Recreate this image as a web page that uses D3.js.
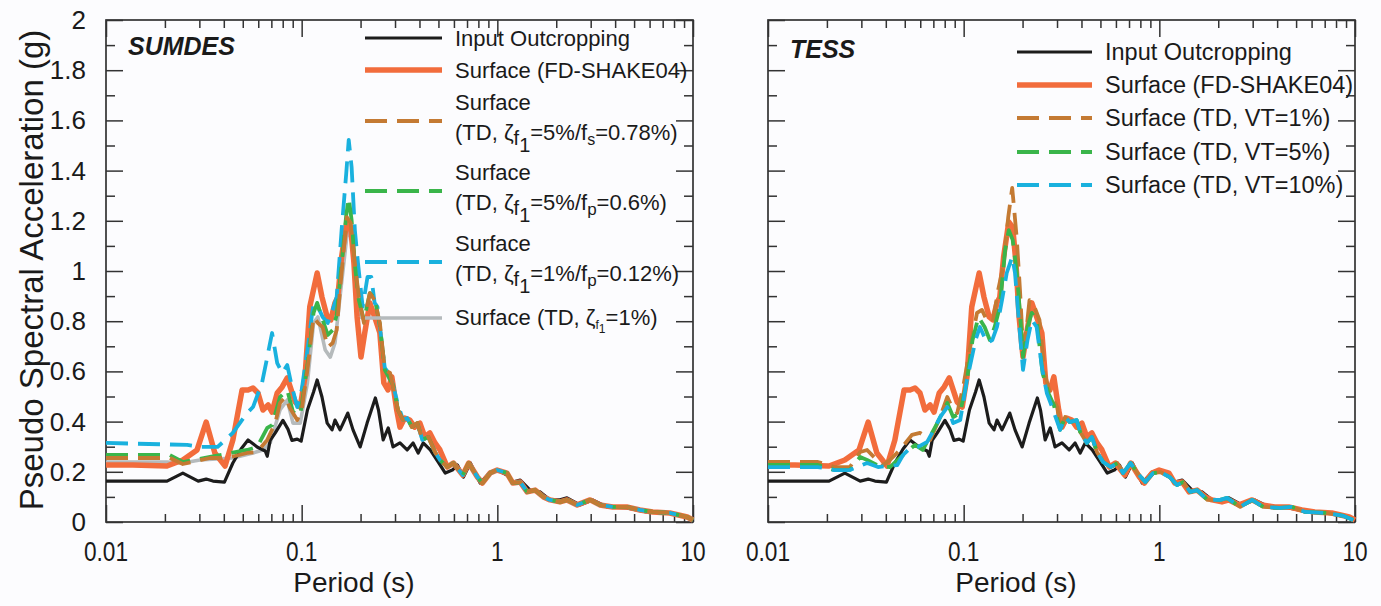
<!DOCTYPE html>
<html><head><meta charset="utf-8">
<script src="https://cdn.jsdelivr.net/npm/d3@7"></script>
<style>
body{margin:0;background:#fcfcfe}
svg{display:block}
text{font-family:"Liberation Sans",Arial,Helvetica,sans-serif;fill:#1a1a1a}
</style>
</head><body>
<svg id="chart" width="1381" height="606"></svg>
<script>
// ---------- tick values / labels ----------
const periodMajorTicks = [0.01, 0.1, 1, 10];
const periodTickLabels = ["0.01", "0.1", "1", "10"];
const periodMinorTicks = [0.02,0.03,0.04,0.05,0.06,0.07,0.08,0.09,0.2,0.3,0.4,0.5,0.6,0.7,0.8,0.9,2,3,4,5,6,7,8,9];
const accelMajorTicks = [0,0.2,0.4,0.6,0.8,1,1.2,1.4,1.6,1.8,2];
const accelTickLabels = ["0","0.2","0.4","0.6","0.8","1","1.2","1.4","1.6","1.8","2"];
const accelMinorTicks = [0.1,0.3,0.5,0.7,0.9,1.1,1.3,1.5,1.7,1.9];

// ---------- series: [period (s), PSA (g)] ----------
const inputOutcropping = [[0.010,0.163],[0.0205,0.163],[0.0247,0.195],[0.0296,0.163],[0.0325,0.171],[0.0352,0.163],[0.0403,0.159],[0.0445,0.235],[0.049,0.291],[0.0532,0.327],[0.0592,0.299],[0.0651,0.283],[0.0667,0.262],[0.069,0.325],[0.0733,0.355],[0.0802,0.405],[0.0851,0.370],[0.0892,0.325],[0.0949,0.330],[0.0994,0.322],[0.107,0.446],[0.115,0.518],[0.120,0.566],[0.127,0.498],[0.135,0.394],[0.143,0.367],[0.148,0.406],[0.157,0.367],[0.163,0.394],[0.172,0.434],[0.183,0.367],[0.199,0.299],[0.216,0.394],[0.238,0.494],[0.247,0.446],[0.261,0.327],[0.277,0.375],[0.293,0.299],[0.318,0.315],[0.346,0.287],[0.371,0.315],[0.394,0.275],[0.418,0.315],[0.454,0.287],[0.499,0.239],[0.542,0.195],[0.589,0.207],[0.625,0.227],[0.671,0.179],[0.728,0.235],[0.817,0.155],[0.919,0.199],[0.998,0.207],[1.12,0.187],[1.20,0.159],[1.31,0.167],[1.47,0.127],[1.65,0.120],[1.86,0.088],[2.09,0.088],[2.27,0.096],[2.64,0.068],[3.07,0.088],[3.63,0.060],[4.58,0.056],[5.77,0.040],[7.30,0.036],[8.57,0.028],[10,0.008]];

const surfaceFdShake04 = [[0.010,0.227],[0.0137,0.227],[0.0205,0.223],[0.0247,0.247],[0.0292,0.287],[0.0325,0.398],[0.036,0.275],[0.0406,0.223],[0.0445,0.327],[0.0496,0.526],[0.0532,0.526],[0.0564,0.534],[0.0598,0.514],[0.0634,0.446],[0.0674,0.466],[0.0706,0.438],[0.075,0.514],[0.0795,0.538],[0.0844,0.574],[0.0884,0.526],[0.0927,0.478],[0.0983,0.458],[0.104,0.578],[0.110,0.857],[0.120,0.992],[0.127,0.896],[0.135,0.817],[0.141,0.805],[0.148,0.873],[0.153,0.896],[0.160,1.056],[0.170,1.195],[0.178,1.175],[0.185,1.032],[0.192,0.817],[0.201,0.657],[0.210,0.753],[0.223,0.873],[0.236,0.817],[0.251,0.753],[0.263,0.554],[0.276,0.526],[0.289,0.578],[0.306,0.446],[0.318,0.378],[0.336,0.414],[0.357,0.406],[0.378,0.378],[0.402,0.394],[0.426,0.339],[0.452,0.355],[0.480,0.315],[0.509,0.287],[0.555,0.219],[0.596,0.235],[0.666,0.187],[0.714,0.235],[0.791,0.179],[0.838,0.155],[0.919,0.195],[0.998,0.207],[1.12,0.195],[1.20,0.155],[1.31,0.159],[1.42,0.120],[1.56,0.127],[1.72,0.100],[1.86,0.088],[2.09,0.080],[2.27,0.088],[2.56,0.068],[2.98,0.088],[3.34,0.068],[3.89,0.060],[4.58,0.060],[5.35,0.048],[6.23,0.040],[7.61,0.036],[9.35,0.020],[10,0.008]];

// SUMDES time-domain runs (short-period part) + shared long-period part
const sumdesZeta5Fs078 = [[0.010,0.255],[0.0212,0.255],[0.0247,0.231],[0.034,0.255],[0.0415,0.255],[0.0526,0.275],[0.0592,0.279],[0.0667,0.327],[0.0733,0.394],[0.0775,0.474],[0.0825,0.498],[0.0871,0.454],[0.0949,0.406],[0.100,0.446],[0.107,0.606],[0.115,0.817],[0.121,0.793],[0.128,0.777],[0.136,0.697],[0.144,0.713],[0.151,0.765],[0.157,0.924],[0.170,1.215],[0.178,1.191],[0.187,1.032],[0.196,0.896],[0.208,0.793],[0.223,0.912],[0.236,0.884],[0.251,0.793],[0.266,0.606],[0.283,0.594],[0.293,0.538],[0.311,0.446],[0.330,0.406]];
const sumdesZeta5Fp06 = [[0.010,0.267],[0.0212,0.267],[0.0247,0.239],[0.034,0.259],[0.0526,0.287],[0.0592,0.299],[0.0667,0.375],[0.0706,0.386],[0.0775,0.498],[0.0844,0.526],[0.0903,0.438],[0.0983,0.426],[0.107,0.625],[0.115,0.833],[0.120,0.873],[0.128,0.805],[0.136,0.745],[0.144,0.765],[0.151,0.825],[0.159,1.004],[0.169,1.223],[0.174,1.291],[0.180,1.203],[0.187,1.024],[0.196,0.884],[0.208,0.805],[0.223,0.912],[0.236,0.892],[0.251,0.785],[0.266,0.606],[0.293,0.546],[0.311,0.446],[0.330,0.406]];
const sumdesZeta1Fp012 = [[0.010,0.315],[0.026,0.307],[0.0302,0.299],[0.0372,0.299],[0.0445,0.355],[0.0526,0.434],[0.0564,0.458],[0.0627,0.554],[0.0667,0.657],[0.0706,0.753],[0.075,0.633],[0.0795,0.594],[0.0844,0.625],[0.0892,0.538],[0.0949,0.458],[0.100,0.526],[0.107,0.685],[0.115,0.873],[0.121,0.857],[0.128,0.817],[0.136,0.793],[0.144,0.845],[0.151,0.896],[0.160,1.163],[0.169,1.390],[0.174,1.522],[0.180,1.414],[0.187,1.163],[0.194,1.032],[0.205,0.857],[0.217,0.976],[0.227,0.976],[0.236,0.873],[0.244,0.857],[0.266,0.614],[0.283,0.586],[0.293,0.546],[0.311,0.466],[0.330,0.406]];
const sumdesZeta1 = [[0.010,0.239],[0.0205,0.239],[0.0247,0.235],[0.0302,0.247],[0.0445,0.255],[0.0564,0.275],[0.0634,0.287],[0.069,0.315],[0.0775,0.446],[0.0844,0.486],[0.0903,0.394],[0.0983,0.394],[0.107,0.554],[0.115,0.793],[0.121,0.817],[0.132,0.685],[0.140,0.657],[0.148,0.713],[0.157,0.896],[0.170,1.135],[0.178,1.163],[0.187,0.976],[0.199,0.817],[0.216,0.805],[0.227,0.857],[0.244,0.817],[0.266,0.606],[0.293,0.538],[0.311,0.446],[0.330,0.406]];
const sumdesLongPeriod = [[0.346,0.414],[0.366,0.378],[0.390,0.394],[0.414,0.327],[0.444,0.339],[0.480,0.279],[0.509,0.247],[0.555,0.219],[0.596,0.235],[0.666,0.187],[0.714,0.235],[0.791,0.179],[0.838,0.155],[0.919,0.195],[0.998,0.207],[1.12,0.195],[1.20,0.155],[1.31,0.159],[1.42,0.120],[1.56,0.127],[1.72,0.100],[1.86,0.088],[2.09,0.080],[2.27,0.088],[2.56,0.068],[2.98,0.088],[3.34,0.068],[3.89,0.060],[4.58,0.060],[5.35,0.048],[6.23,0.040],[7.61,0.036],[9.35,0.020],[10,0.008]];

// TESS time-domain runs (short-period part) + shared long-period part
const tessVt1 = [[0.010,0.239],[0.018,0.239],[0.0219,0.219],[0.0262,0.219],[0.0296,0.279],[0.0321,0.287],[0.036,0.247],[0.0388,0.227],[0.042,0.247],[0.0473,0.287],[0.0544,0.347],[0.0598,0.355],[0.0674,0.327],[0.0758,0.418],[0.0825,0.498],[0.0871,0.458],[0.0927,0.434],[0.0994,0.538],[0.108,0.697],[0.117,0.833],[0.124,0.845],[0.131,0.805],[0.141,0.797],[0.150,0.924],[0.159,1.016],[0.169,1.215],[0.177,1.331],[0.180,1.271],[0.187,1.124],[0.194,0.924],[0.201,0.697],[0.210,0.777],[0.217,0.884],[0.230,0.857],[0.244,0.805],[0.259,0.594],[0.276,0.514],[0.301,0.458]];
const tessVt5 = [[0.010,0.227],[0.018,0.227],[0.0219,0.207],[0.0262,0.207],[0.0296,0.259],[0.0321,0.247],[0.036,0.227],[0.042,0.219],[0.049,0.267],[0.0564,0.307],[0.0618,0.287],[0.0733,0.394],[0.0825,0.474],[0.0884,0.418],[0.096,0.434],[0.104,0.566],[0.111,0.725],[0.119,0.817],[0.128,0.777],[0.136,0.725],[0.144,0.777],[0.153,0.857],[0.163,1.084],[0.170,1.163],[0.178,1.124],[0.187,0.992],[0.194,0.833],[0.201,0.657],[0.212,0.777],[0.223,0.833],[0.236,0.805],[0.253,0.594],[0.271,0.514],[0.289,0.466]];
const tessVt10 = [[0.010,0.219],[0.018,0.219],[0.0219,0.207],[0.0262,0.207],[0.0321,0.235],[0.0365,0.219],[0.0458,0.227],[0.049,0.267],[0.052,0.287],[0.0585,0.299],[0.0651,0.319],[0.069,0.355],[0.0758,0.418],[0.0825,0.458],[0.0884,0.394],[0.096,0.406],[0.104,0.566],[0.115,0.725],[0.121,0.777],[0.132,0.713],[0.140,0.725],[0.148,0.777],[0.157,0.884],[0.166,0.992],[0.177,1.056],[0.183,0.992],[0.190,0.833],[0.201,0.606],[0.212,0.725],[0.223,0.805],[0.236,0.777],[0.251,0.618],[0.266,0.514],[0.283,0.458]];
const tessLongPeriod = [[0.311,0.367],[0.330,0.418],[0.349,0.398],[0.378,0.406],[0.394,0.359],[0.426,0.315],[0.452,0.339],[0.480,0.279],[0.516,0.239],[0.564,0.219],[0.610,0.235],[0.652,0.195],[0.714,0.235],[0.772,0.195],[0.848,0.159],[0.930,0.195],[1.01,0.199],[1.13,0.179],[1.23,0.147],[1.32,0.159],[1.44,0.120],[1.56,0.127],[1.76,0.088],[2.05,0.088],[2.22,0.096],[2.59,0.060],[2.98,0.088],[3.40,0.060],[4.13,0.056],[4.76,0.060],[5.56,0.040],[7.16,0.036],[8.74,0.024],[9.8,0.008]];

// ---------- styles ----------
const styles = {
  input: {color:"#1c1c1c", width:3.2, dash:null},
  fd:    {color:"#f26c3c", width:5.5, dash:null},
  brown: {color:"#c47a33", width:3.8, dash:"22,10"},
  green: {color:"#3ab54a", width:3.8, dash:"22,10"},
  cyan:  {color:"#19b1de", width:3.8, dash:"22,10"},
  gray:  {color:"#b5babc", width:3.6, dash:null}
};

const Y_TOP = 20, Y_BOT = 522;

const panels = [
  {
    title:"SUMDES", titleX:128, titleY:55, x0:106, x1:693, yLabels:true, xTitleX:354,
    series:[
      {style:"gray",  data:sumdesZeta1.concat(sumdesLongPeriod)},
      {style:"input", data:inputOutcropping},
      {style:"fd",    data:surfaceFdShake04},
      {style:"cyan",  data:sumdesZeta1Fp012.concat(sumdesLongPeriod)},
      {style:"green", data:sumdesZeta5Fp06.concat(sumdesLongPeriod)},
      {style:"brown", data:sumdesZeta5Fs078.concat(sumdesLongPeriod)}
    ],
    legend:{lineX0:365, lineX1:442, textX:455, size:22, entries:[
      {style:"input", lineY:38, lines:[{y:46, parts:[["Input Outcropping"]]}]},
      {style:"fd", lineY:70, lines:[{y:78, parts:[["Surface (FD-SHAKE04)"]]}]},
      {style:"brown", lineY:121, lines:[{y:110, parts:[["Surface"]]},
        {y:140, parts:[["(TD, ζ"],["f",5,20],["1",7,20],["=5%/f",-12],["s",5,16],["=0.78%)",-5]]}]},
      {style:"green", lineY:191, lines:[{y:180, parts:[["Surface"]]},
        {y:210, parts:[["(TD, ζ"],["f",5,20],["1",7,20],["=5%/f",-12],["p",5,17],["=0.6%)",-5]]}]},
      {style:"cyan", lineY:262, lines:[{y:251, parts:[["Surface"]]},
        {y:281, parts:[["(TD, ζ"],["f",5,20],["1",7,20],["=1%/f",-12],["p",5,17],["=0.12%)",-5]]}]},
      {style:"gray", lineY:318, lines:[{y:325, parts:[["Surface (TD, ζ"],["f",4,12],["1",4,12],["=1%)",-8]]}]}
    ]}
  },
  {
    title:"TESS", titleX:790, titleY:58, x0:768, x1:1355, yLabels:false, xTitleX:1016,
    series:[
      {style:"input", data:inputOutcropping},
      {style:"fd",    data:surfaceFdShake04},
      {style:"brown", data:tessVt1.concat(tessLongPeriod)},
      {style:"green", data:tessVt5.concat(tessLongPeriod)},
      {style:"cyan",  data:tessVt10.concat(tessLongPeriod)}
    ],
    legend:{lineX0:1017, lineX1:1092, textX:1105, size:23.5, entries:[
      {style:"input", lineY:52,  lines:[{y:60,  parts:[["Input Outcropping"]]}]},
      {style:"fd",    lineY:85,  lines:[{y:93,  parts:[["Surface (FD-SHAKE04)"]]}]},
      {style:"brown", lineY:118, lines:[{y:126, parts:[["Surface (TD, VT=1%)"]]}]},
      {style:"green", lineY:152, lines:[{y:160, parts:[["Surface (TD, VT=5%)"]]}]},
      {style:"cyan",  lineY:185, lines:[{y:193, parts:[["Surface (TD, VT=10%)"]]}]}
    ]}
  }
];

const svg = d3.select("#chart");
const y = d3.scaleLinear().domain([0, 2]).range([Y_BOT, Y_TOP]);

function applyStyle(sel, st) {
  sel.attr("fill","none").attr("stroke", st.color).attr("stroke-width", st.width)
     .attr("stroke-linejoin","round").attr("stroke-linecap","butt");
  if (st.dash) sel.attr("stroke-dasharray", st.dash);
}

function styleAxis(g) {
  g.select(".domain").remove();
  g.selectAll(".tick line").attr("stroke","#333").attr("stroke-width",1.5);
  g.selectAll(".tick text").remove();
}

panels.forEach(p => {
  const x = d3.scaleLog().domain([0.01, 10]).range([p.x0, p.x1]);
  const g = svg.append("g");

  // ticks (all pointing inward)
  g.append("g").attr("transform",`translate(0,${Y_BOT})`)
    .call(d3.axisBottom(x).tickValues(periodMajorTicks).tickSize(-17)).call(styleAxis);
  g.append("g").attr("transform",`translate(0,${Y_BOT})`)
    .call(d3.axisBottom(x).tickValues(periodMinorTicks).tickSize(-8)).call(styleAxis);
  g.append("g").attr("transform",`translate(0,${Y_TOP})`)
    .call(d3.axisTop(x).tickValues(periodMajorTicks).tickSize(-17)).call(styleAxis);
  g.append("g").attr("transform",`translate(0,${Y_TOP})`)
    .call(d3.axisTop(x).tickValues(periodMinorTicks).tickSize(-8)).call(styleAxis);
  g.append("g").attr("transform",`translate(${p.x0},0)`)
    .call(d3.axisLeft(y).tickValues(accelMajorTicks).tickSize(-17)).call(styleAxis);
  g.append("g").attr("transform",`translate(${p.x0},0)`)
    .call(d3.axisLeft(y).tickValues(accelMinorTicks).tickSize(-9)).call(styleAxis);
  g.append("g").attr("transform",`translate(${p.x1},0)`)
    .call(d3.axisRight(y).tickValues(accelMajorTicks).tickSize(-17)).call(styleAxis);
  g.append("g").attr("transform",`translate(${p.x1},0)`)
    .call(d3.axisRight(y).tickValues(accelMinorTicks).tickSize(-9)).call(styleAxis);

  // frame
  g.append("rect").attr("x",p.x0).attr("y",Y_TOP).attr("width",p.x1-p.x0).attr("height",Y_BOT-Y_TOP)
    .attr("fill","none").attr("stroke","#333").attr("stroke-width",1.7);

  // x tick labels
  g.selectAll(".xl").data(periodMajorTicks).enter().append("text")
    .attr("transform", d => `translate(${x(d)},561) scale(0.84,1)`)
    .attr("text-anchor","middle").attr("font-size",27)
    .text((d,i) => periodTickLabels[i]);

  if (p.yLabels) {
    g.selectAll(".yl").data(accelMajorTicks).enter().append("text")
      .attr("x",86).attr("y", d => y(d)+9).attr("text-anchor","end").attr("font-size",26)
      .text((d,i) => accelTickLabels[i]);
    g.append("text").attr("transform","translate(43,270) rotate(-90)")
      .attr("text-anchor","middle").attr("font-size",33)
      .text("Pseudo Spectral Acceleration (g)");
  }

  g.append("text").attr("x",p.xTitleX).attr("y",592).attr("text-anchor","middle")
    .attr("font-size",28).text("Period (s)");

  // panel title
  g.append("text").attr("x",p.titleX).attr("y",p.titleY).attr("font-size",25)
    .attr("font-weight","bold").attr("font-style","italic").text(p.title);

  // curves
  const line = d3.line().x(d => x(d[0])).y(d => y(d[1]));
  p.series.forEach(s => {
    g.append("path").datum(s.data).attr("d", line).call(applyStyle, styles[s.style]);
  });

  // legend
  const L = p.legend;
  L.entries.forEach(e => {
    g.append("line").attr("x1",L.lineX0).attr("x2",L.lineX1).attr("y1",e.lineY).attr("y2",e.lineY)
      .call(applyStyle, styles[e.style]);
    e.lines.forEach(ln => {
      const t = g.append("text").attr("x",L.textX).attr("y",ln.y).attr("font-size",L.size);
      ln.parts.forEach(pt => {
        const ts = t.append("tspan").text(pt[0]);
        if (pt[1] !== undefined) ts.attr("dy", pt[1]);
        ts.attr("font-size", pt[2] !== undefined ? pt[2] : L.size);
      });
    });
  });
});
</script>
</body></html>
